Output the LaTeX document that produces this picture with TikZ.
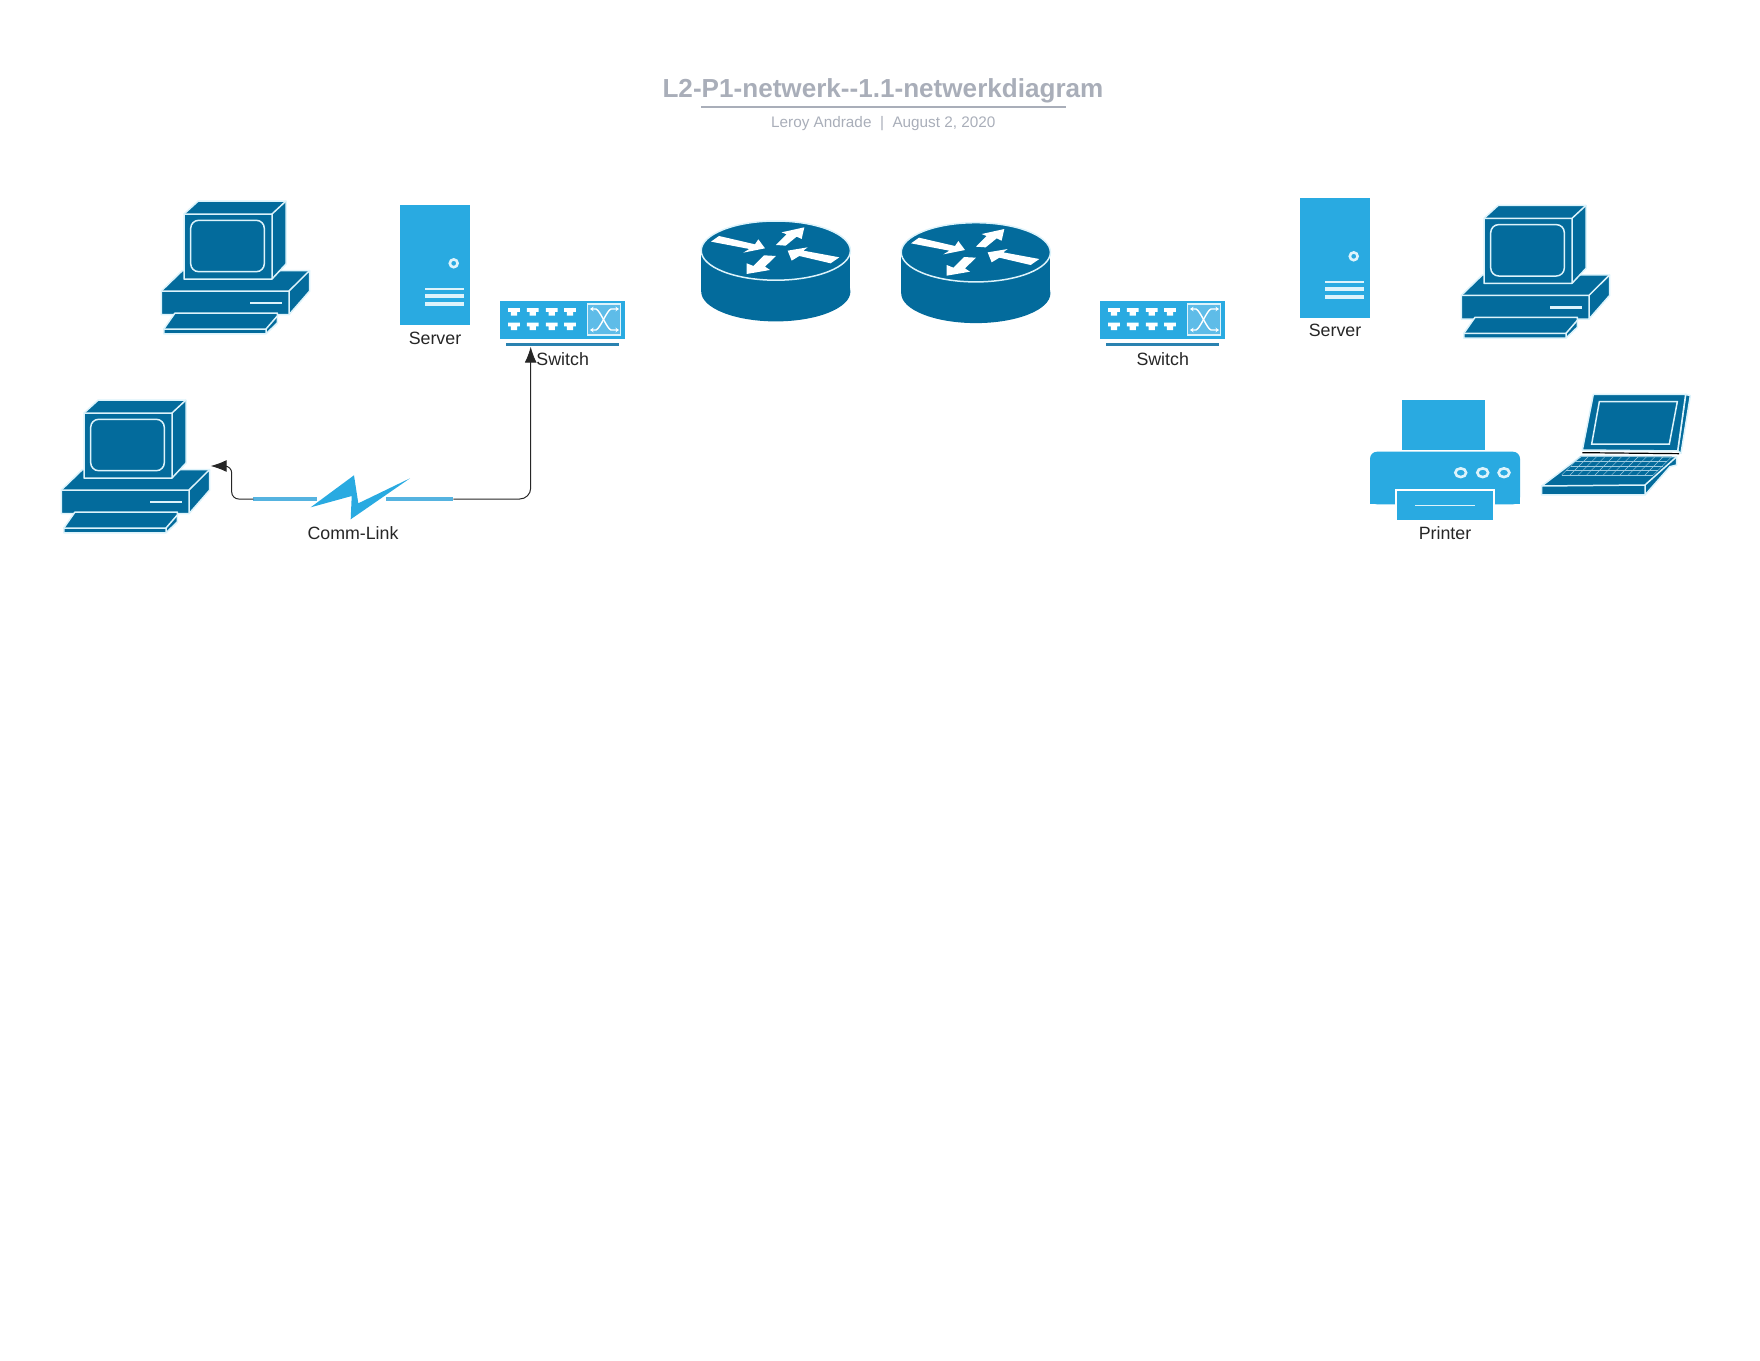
\documentclass[tikz,border=0pt]{standalone}
\usepackage{fontspec}
\setmainfont{Liberation Sans}
\usetikzlibrary{arrows.meta}
\definecolor{dkblue}{HTML}{036B9C}
\definecolor{ltblue}{HTML}{29AAE1}
\definecolor{midblue}{HTML}{5EBCE8}
\definecolor{barblue}{HTML}{2A82B0}
\definecolor{linkblue}{HTML}{55B3E0}
\definecolor{edge}{HTML}{DDF3FB}
\definecolor{ink}{HTML}{262626}
\definecolor{titlegrey}{HTML}{A9AEB9}
\tikzset{
  dk/.style={fill=dkblue,draw=edge,line width=1.5pt,line join=round},
  wl/.style={draw=edge,line width=1.5pt},
  lbl/.style={font=\fontsize{17.8}{20}\selectfont,text=ink,inner sep=0pt},
  conn/.style={draw=ink,line width=1pt,-{Latex[length=16pt,width=12pt]}},
  linkbar/.style={draw=linkblue,line width=4pt},
  pics/computer/.style={code={
    \path[dk] (82.5,469.5)--(209.7,469.5)--(209.7,490)--(189,513.7)--(61.3,513.7)--(61.3,490)--cycle;
    \draw[wl] (61.3,490)--(189,490)--(209.7,469.5) (189,490)--(189,513.7);
    \fill[edge] (150,500.6) rectangle (182,503.4);
    \path[dk] (75,512)--(177.3,512)--(177.3,522)--(166,532.8)--(63.8,532.8)--(63.8,528)--cycle;
    \draw[wl] (63.8,528)--(166,528)--(177.3,515) (166,528)--(166,532.8);
    \path[dk] (84,413)--(98.3,400)--(186,400)--(186,463)--(172,478)--(84,478)--cycle;
    \draw[wl] (84,413)--(172,413)--(186,400) (172,413)--(172,478);
    \draw[wl,rounded corners=8pt] (90.7,419.3) rectangle (164.3,470.7);
  }},
  pics/server/.style={code={
    \fill[ltblue] (400,205) rectangle (470,325);
    \draw[edge,line width=2.6pt] (453.7,263.3) circle (3.9);
    \foreach \y/\w in {289.3/2.2,296/3.2,303.7/3.6}{\fill[edge] (425,\y-\w/2) rectangle (464,\y+\w/2);}
  }},
  pics/switch/.style={code={
    \fill[ltblue] (500,301) rectangle (625,339);
    \fill[barblue] (506,343) rectangle (619,345.7);
    \foreach \x in {514,532.7,551.7,570}{\foreach \y in {308,322.6}{
      \fill[white] (\x-5.8,\y)--(\x+5.8,\y)--(\x+5.8,\y+3.8)--(\x+3.2,\y+3.8)--(\x+3.2,\y+7.6)--(\x-3.2,\y+7.6)--(\x-3.2,\y+3.8)--(\x-5.8,\y+3.8)--cycle;}}
    \path[fill=midblue,draw=edge,line width=1.4pt] (587.5,304) rectangle (620.7,335);
    \draw[white,line width=1.4pt,{Stealth[length=3.5pt,width=4.5pt]}-{Stealth[length=3.5pt,width=4.5pt]}] (590,309)--(596,309) .. controls (600,310) and (607,329) .. (611,330)--(619,330);
    \draw[white,line width=1.4pt,{Stealth[length=3.5pt,width=4.5pt]}-{Stealth[length=3.5pt,width=4.5pt]}] (590,330)--(596,330) .. controls (600,329) and (607,310) .. (611,309)--(619,309);
  }},
  pics/router/.style={code={
    \fill[dkblue] (775.8,291.6) ellipse [x radius=74.6,y radius=29.8];
    \fill[dkblue] (701.2,250.8) rectangle (850.4,291.6);
    \path[fill=dkblue,draw=edge,line width=1.5pt] (775.8,250.6) ellipse [x radius=74.6,y radius=29.6];
    \begin{scope}[shift={(640,50)},x=0.3333pt,y=-0.3333pt]
      \fill[white] (213,575)--(237,558)--(345,583)--(355,568)--(375,595)--(310,608)--(328,597)--cycle;
      \fill[white] (408,585)--(440,553)--(425,547)--(493,532)--(485,567)--(470,560)--(437,587)--cycle;
      \fill[white] (598,622)--(572,640)--(478,618)--(455,632)--(443,602)--(503,592)--(490,602)--cycle;
      \fill[white] (408,618)--(375,650)--(390,660)--(320,672)--(320,640)--(340,648)--(372,616)--cycle;
    \end{scope}
  }},
}
\begin{document}
\begin{tikzpicture}[x=1pt,y=-1pt]
\useasboundingbox (0,0) rectangle (1760,1360);
% title block
\node[font=\fontsize{26.1}{30}\selectfont\bfseries,text=titlegrey,inner sep=0pt] (title) at (883,91) {L2-P1-netwerk-{}-1.1-netwerkdiagram};
\coordinate (ruleL) at (701,106.7);
\coordinate (ruleR) at (1066,106.7);
\draw[titlegrey,line width=1.8pt] (ruleL)--(ruleR);
\node[font=\fontsize{15.3}{18}\selectfont,text=titlegrey,inner sep=0pt] (sub) at (883.3,124) {Leroy Andrade\ \ |\ \ August 2, 2020};
% devices
\pic at (100,-199) {computer};
\pic at (0,0) {computer};
\pic at (1400,-194.7) {computer};
\pic at (0,0) {server};
\pic at (900,-7) {server};
\pic at (0,0) {switch};
\pic at (600,0) {switch};
\pic at (0,0) {router};
\pic at (200,1.7) {router};
\node[lbl] (srv1) at (435,338) {Server};
\node[lbl] (srv2) at (1335,330.4) {Server};
\node[lbl] (sw1) at (562.7,359) {Switch};
\node[lbl] (sw2) at (1162.7,359) {Switch};
% printer
\fill[ltblue] (1402.3,400) rectangle (1485.3,450);
\fill[ltblue,rounded corners=7pt] (1370,504.3)--(1370,451.7)--(1520,451.7)--(1520,504.3)--cycle;
\fill[ltblue] (1370,490) rectangle (1520,504.3);
\fill[white] (1395,489) rectangle (1495,520);
\fill[ltblue] (1397,491) rectangle (1493,520);
\draw[edge,line width=1.2pt] (1415,505.3)--(1475,505.3);
\foreach \x in {1460.7,1482.7,1504}{\draw[edge,line width=2.6pt] (\x,472.7) ellipse [x radius=5.4,y radius=4.4];}
\node[lbl] (prn) at (1445,532.7) {Printer};
% laptop
\begin{scope}[shift={(1530,385)},x=0.3333pt,y=-0.3333pt]
  \path[dk] (467,28)--(481,32)--(453,205)--(443,198)--cycle;
  \path[dk] (190,28)--(467,28)--(443,198)--(157,195)--cycle;
  \draw[wl] (208,50)--(442,50)--(418,177)--(185,177)--cycle;
  \path[dk] (155,212)--(440,215)--(440,240)--(420,245)--(345,330)--(35,330)--(35,303)--cycle;
  \draw[black,line width=1.2pt] (157,203)--(447,206);
  \draw[wl] (35,303)--(345,300)--(440,215) (345,300)--(345,330);
  \foreach \i in {0,...,4}{\draw[edge!70!dkblue,line width=.4pt] ({150-\i*13.75},{215+\i*13.75})--({425-\i*13.75},{215+\i*13.75});}
  \foreach \i in {0,...,11}{\draw[edge!70!dkblue,line width=.4pt] ({150+\i*25},215)--({95+\i*25},270);}
\end{scope}
% comm link
\coordinate (barLa) at (253.3,499);
\coordinate (barLb) at (317.3,499);
\coordinate (barRa) at (386,499);
\coordinate (barRb) at (453.3,499);
\draw[linkbar] (barLa)--(barLb);
\draw[linkbar] (barRa)--(barRb);
\fill[ltblue] (310.7,507.3)--(354,475.3)--(358.3,503.3)--(410,478.3)--(350.7,519.3)--(351.7,496)--cycle;
\node[lbl] (link) at (353,532.7) {Comm-Link};
\coordinate (swIn) at (530.7,346.7);
\coordinate (pcIn) at (210.7,466);
\draw[conn,rounded corners=11pt] (barRb)--(530.7,499)--(swIn);
\draw[conn,rounded corners=7pt] (barLa)--(231.7,499)--(231.7,466)--(pcIn);
\end{tikzpicture}
\end{document}
